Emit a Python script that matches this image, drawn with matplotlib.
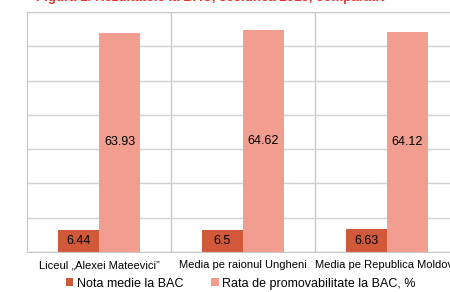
import numpy as np
import matplotlib.pyplot as plt

plt.rcParams['font.family'] = ['Liberation Sans', 'DejaVu Sans']

categories = ["Liceul \u201eAlexei Mateevici\u201d", "Media pe raionul Ungheni", "Media pe Republica Moldova"]
nota_medie = [6.44, 6.5, 6.63]
rata_promovare = [63.93, 64.62, 64.12]

dark = "#D2583A"
light = "#F19E90"

fig = plt.figure(figsize=(4.5, 2.92), dpi=100)
ax = fig.add_axes([0.06, 0.137, 0.96, 0.822])

x = np.arange(len(categories))
w = 0.285
b1 = ax.bar(x - w / 2, nota_medie, w, color=dark, label="Nota medie la BAC")
b2 = ax.bar(x + w / 2, rata_promovare, w, color=light, label="Rata de promovabilitate la BAC, %")

for r, v in zip(b1, nota_medie):
    ax.text(r.get_x() + r.get_width() / 2, v / 2, f"{v:g}", ha="center", va="center", fontsize=9)
for r, v in zip(b2, rata_promovare):
    ax.text(r.get_x() + r.get_width() / 2, v / 2, f"{v:g}", ha="center", va="center", fontsize=9)

ax.set_ylim(0, 70)
ax.set_xlim(-0.5, 2.5)
ax.set_yticks(np.arange(0, 71, 10))
ax.yaxis.grid(True, color="#D0D0D0", linewidth=1)
ax.set_axisbelow(True)
ax.tick_params(axis="y", left=False, labelleft=False)
ax.tick_params(axis="x", length=0, labelsize=8, pad=6)
ax.set_xticks(x)
ax.set_xticklabels(categories)
for xv in [0.5, 1.5]:
    ax.axvline(xv, color="#C8C8C8", linewidth=1, zorder=0)
for s in ax.spines.values():
    s.set_color("#C8C8C8")

fig.legend(loc="lower center", bbox_to_anchor=(0.535, -0.03), ncol=2, frameon=False,
           fontsize=9, handlelength=0.6, handleheight=0.6, handletextpad=0.3, columnspacing=2.2)

fig.text(0.08, 0.998, "Figura 1. Rezultatele la BAC, sesiunea 2019, comparativ", color="#E8312A",
         fontsize=9.5, fontweight="bold", va="baseline")

fig.savefig("out.png", dpi=100)
